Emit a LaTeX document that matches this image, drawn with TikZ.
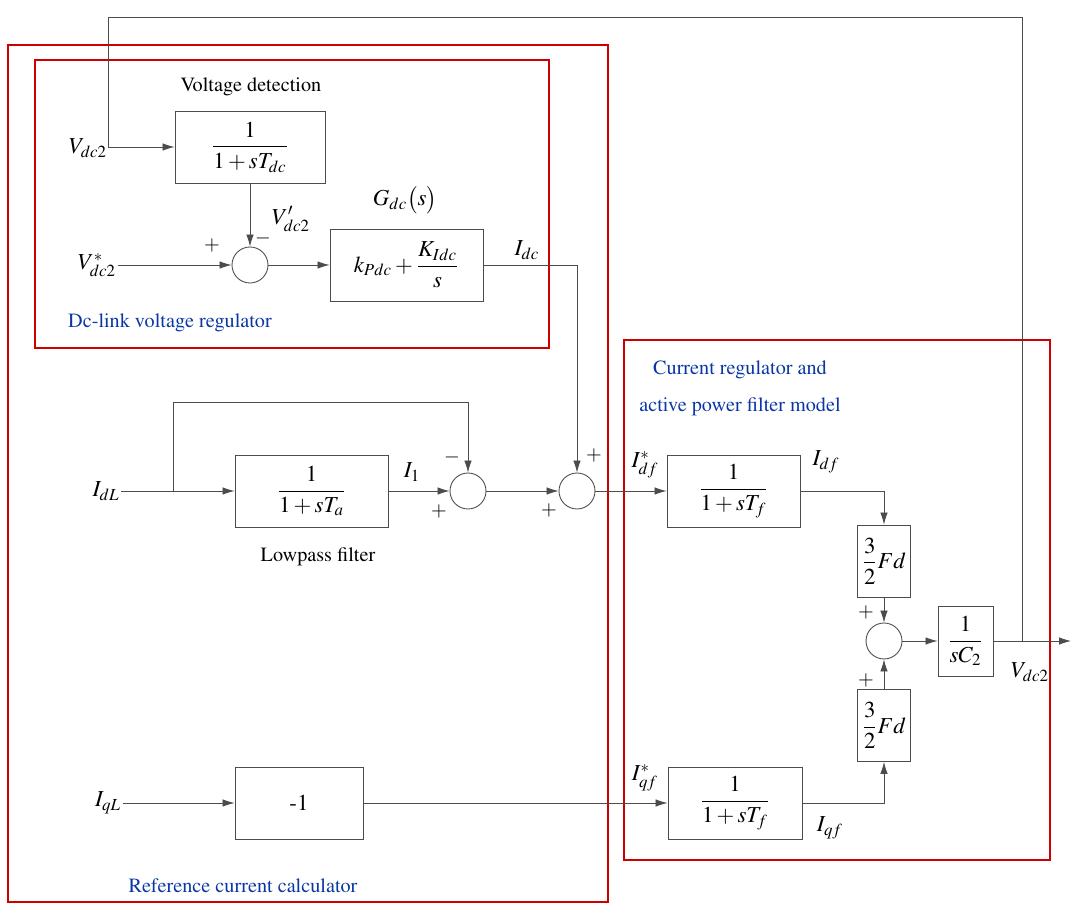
\documentclass[tikz,border=0pt]{standalone}
\usepackage{amsmath}
\usepackage{mathptmx}
\usepackage[T1]{fontenc}
\usepackage{tikz}
\usetikzlibrary{arrows.meta, positioning}
\colorlet{frame}{red!80!black}
\definecolor{capblue}{RGB}{10,55,165}
\colorlet{wirec}{black!70}
\newcommand{\mfont}{\fontsize{13}{15}\selectfont}
\newcommand{\tfont}{\fontsize{11.5}{14}\selectfont}

\begin{document}
\begin{tikzpicture}[x=0.2mm, y=-0.2mm, >={Latex[length=2.4mm, width=1.5mm]},
    block/.style={draw=wirec, line width=0.5pt, minimum height=14.4mm, inner sep=1pt, font=\mfont},
    sum/.style={draw=wirec, line width=0.5pt, circle, minimum size=7.2mm, inner sep=0pt},
    lbl/.style={font=\mfont, inner sep=1pt},
    sgn/.style={font=\tfont, inner sep=0pt},
    note/.style={font=\tfont},
    areaname/.style={font=\tfont, text=capblue},
    area/.style={draw=frame, line width=0.8pt},
    wire/.style={draw=wirec, line width=0.45pt}]
    \useasboundingbox (0,0) rectangle (1072,905);

    % red areas
    \draw[area] (8,45) rectangle (608,902);
    \draw[area] (35,60) rectangle (549,348);
    \draw[area] (624,340) rectangle (1050,860);

    % dc-link voltage regulator
    \node[block, minimum width=30mm] (det) at (250,147) {$\dfrac{1}{1+sT_{dc}}$};
    \node[note] (detname) at (251,87) {Voltage detection};
    \node[sum] (sumv) at (250,265) {};
    \node[block, minimum width=30.6mm] (gdc) at (406.5,265) {$k_{Pdc}+\dfrac{K_{Idc}}{s}$};
    \node[lbl] (gdcname) at (405,200) {$G_{dc}\bigl(s\bigr)$};
    \node[lbl] (vin) at (88,148) {$V_{dc2}$};
    \node[lbl] (vref) at (97,265) {$V^{*}_{dc2}$};
    \node[lbl] (vdet) at (291,219) {$V'_{dc2}$};
    \node[sgn] (mv) at (263,238) {$-$};
    \node[sgn] (pv) at (212,245) {$+$};
    \node[lbl] (idc) at (527,250) {$I_{dc}$};
    \node[areaname] (dcname) at (170,323) {Dc-link voltage regulator};

    % reference current calculator
    \node[block, minimum width=30.6mm] (lpf) at (311.5,491) {$\dfrac{1}{1+sT_{a}}$};
    \node[note] (lpfname) at (318,557) {Lowpass filter};
    \node[sum] (sumd) at (468,491) {};
    \node[sum] (sumc) at (577,491) {};
    \node[lbl] (idl) at (106,491) {$I_{dL}$};
    \node[lbl] (i1) at (412,472) {$I_{1}$};
    \node[sgn] (md) at (452,457) {$-$};
    \node[sgn] (pd) at (439,511) {$+$};
    \node[sgn] (pc1) at (594,455) {$+$};
    \node[sgn] (pc2) at (549,510) {$+$};
    \node[block, minimum width=25.6mm] (neg) at (299,803) {-1};
    \node[lbl] (iql) at (108,803) {$I_{qL}$};
    \node[areaname] (refname) at (243,886) {Reference current calculator};

    % current regulator and active power filter model
    \node[block, minimum width=26.6mm] (tfd) at (733.5,491) {$\dfrac{1}{1+sT_{f}}$};
    \node[block, minimum width=26.8mm] (tfq) at (735,803) {$\dfrac{1}{1+sT_{f}}$};
    \node[block, minimum width=10.6mm, inner sep=0pt] (fdd) at (884,561) {$\dfrac{3}{2}Fd$};
    \node[block, minimum width=10.6mm, inner sep=0pt] (fdq) at (884,725.5) {$\dfrac{3}{2}Fd$};
    \node[sum] (sump) at (884,641) {};
    \node[block, minimum width=11mm, minimum height=14mm] (integ) at (965.5,641) {$\dfrac{1}{sC_{2}}$};
    \node[sgn] (pp1) at (866,612) {$+$};
    \node[sgn] (pp2) at (866,680) {$+$};
    \node[lbl] (idfs) at (645,465) {$I^{*}_{df}$};
    \node[lbl] (idf) at (826,462) {$I_{df}$};
    \node[lbl] (iqfs) at (645,778) {$I^{*}_{qf}$};
    \node[lbl] (iqf) at (830,828) {$I_{qf}$};
    \node[lbl] (vout) at (1030,672) {$V_{dc2}$};
    \node[areaname] (crname) at (740,370) {Current regulator and};
    \node[areaname] (apfname) at (740,407) {active power filter model};

    % corner points
    \coordinate (br) at (1022,641);
    \coordinate (tl) at (108,17);
    \coordinate (bd) at (173,491);
    \coordinate (tp) at (468,402);
    \coordinate (out) at (1071,641);

    % connectors
    \draw[wire, ->] (br) |- (tl) |- (det.west);
    \draw[wire, ->] (det) -- (sumv);
    \draw[wire, ->] (vref) -- (sumv);
    \draw[wire, ->] (sumv) -- (gdc);
    \draw[wire, ->] (gdc.east) -| (sumc.north);
    \draw[wire, ->] (idl) -- (lpf);
    \draw[wire, ->] (bd) |- (tp) -- (sumd.north);
    \draw[wire, ->] (lpf) -- (sumd);
    \draw[wire, ->] (sumd) -- (sumc);
    \draw[wire, ->] (sumc) -- (tfd);
    \draw[wire, ->] (tfd.east) -| (fdd.north);
    \draw[wire, ->] (fdd) -- (sump);
    \draw[wire, ->] (fdq) -- (sump);
    \draw[wire, ->] (sump) -- (integ);
    \draw[wire, ->] (integ) -- (out);
    \draw[wire, ->] (iql) -- (neg);
    \draw[wire, ->] (neg) -- (tfq);
    \draw[wire, ->] (tfq.east) -| (fdq.south);
\end{tikzpicture}
\end{document}
